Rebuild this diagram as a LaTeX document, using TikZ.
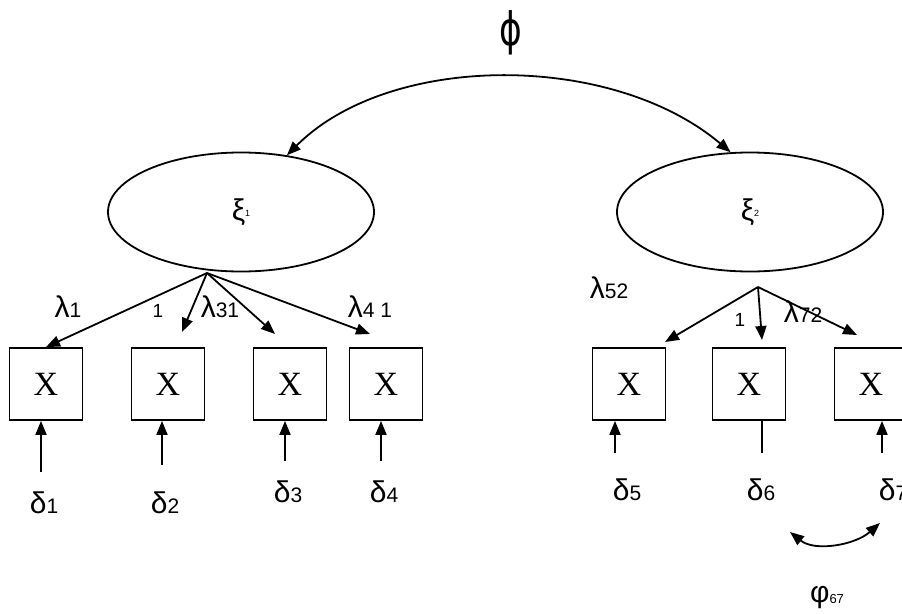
\documentclass[tikz,border=0pt]{standalone}
\usepackage{fontspec}
\setmainfont{Liberation Sans}
\newfontfamily\xfont{Liberation Serif}
\newfontfamily\symfont{DejaVu Sans}
\usetikzlibrary{arrows.meta,shapes.geometric}
\newcommand\sub[1]{{\fontsize{21}{21}\selectfont #1}}

\begin{document}
\begin{tikzpicture}[x=1pt,y=-1pt,>={Triangle[length=14pt,width=11pt]},
  line width=1.8pt,
  latent/.style={ellipse,draw,minimum width=266pt,minimum height=119pt,inner sep=0pt,font=\fontsize{30}{30}\selectfont},
  obs/.style={rectangle,draw,minimum width=73pt,minimum height=72pt,inner sep=0pt,font=\xfont\fontsize{34}{34}\selectfont},
  lab/.style={inner sep=0pt,font=\fontsize{30}{30}\selectfont},
  one/.style={inner sep=0pt,font=\fontsize{19}{19}\selectfont}]

  \useasboundingbox (0,0) rectangle (902,613);

  \node (phi) at (511,33) {\scalebox{0.75}[1]{\symfont\fontsize{46}{46}\selectfont ϕ}};
  \node[latent] (xi1) at (241,212) {ξ\raisebox{4pt}{\fontsize{9}{9}\selectfont 1}};
  \node[latent] (xi2) at (750,212) {ξ\raisebox{4pt}{\fontsize{9}{9}\selectfont 2}};

  \node[obs] (x1) at (46,384) {X};
  \node[obs] (x2) at (168,384) {X};
  \node[obs] (x3) at (290,384) {X};
  \node[obs] (x4) at (386,384) {X};
  \node[obs] (x5) at (629,384) {X};
  \node[obs] (x6) at (749,384) {X};
  \node[obs] (x7) at (871,384) {X};

  \node[lab] (l1) at (68,307) {λ\sub{1}};
  \node[one] (o2) at (158,311) {1};
  \node[lab] (l3) at (220,307) {λ\sub{31}};
  \node[lab] (l4) at (370,307) {λ\sub{4 1}};
  \node[lab] (l5) at (609,288) {λ\sub{52}};
  \node[one] (o6) at (740,320) {1};
  \node[lab] (l7) at (803,312) {λ\sub{72}};

  \node[lab] (d1) at (44,503) {δ\sub{1}};
  \node[lab] (d2) at (165,503) {δ\sub{2}};
  \node[lab] (d3) at (288,492) {δ\sub{3}};
  \node[lab] (d4) at (384,492) {δ\sub{4}};
  \node[lab] (d5) at (627,490) {δ\sub{5}};
  \node[lab] (d6) at (761,490) {δ\sub{6}};
  \node[lab] (d7) at (893,490) {δ\sub{7}};
  \node[lab] (p67) at (827,598) {φ\raisebox{-1pt}{\fontsize{13}{13}\selectfont 67}};

  % loading points and tips
  \coordinate (f1) at (207,273);
  \coordinate (f2) at (758,287);
  \coordinate (a2) at (182,332);
  \coordinate (a3) at (275,334);
  \coordinate (a4) at (370,334);
  \coordinate (a5) at (665,342);
  \coordinate (a6) at (762,340);
  \coordinate (a7) at (857,335);
  % error term starts
  \coordinate (e1) at (41,472);
  \coordinate (e2) at (162,465);
  \coordinate (e3) at (285,461);
  \coordinate (e4) at (381,461);
  \coordinate (e5) at (615,453);
  \coordinate (e6) at (762,453);
  \coordinate (e7) at (882,453);
  \coordinate (c6) at (790,532);
  \coordinate (c7) at (880,523);

  \draw[<->] (xi1.51) .. controls (390,52) and (612,52) .. (xi2.108);

  \path[->]
    (f1) edge (x1.north)
    (f1) edge (a2)
    (f1) edge (a3)
    (f1) edge (a4)
    (f2) edge (a5)
    (f2) edge (a6)
    (f2) edge (a7)
    (e1) edge (x1.south -| e1)
    (e2) edge (x2.south -| e2)
    (e3) edge (x3.south -| e3)
    (e4) edge (x4.south -| e4)
    (e5) edge (x5.south -| e5)
    (e7) edge (x7.south -| e7)
    ;
  \draw (x6.south -| e6) -- (e6);

  \draw[<->] (c6) .. controls (815,552) and (855,545) .. (c7);

\end{tikzpicture}
\end{document}
